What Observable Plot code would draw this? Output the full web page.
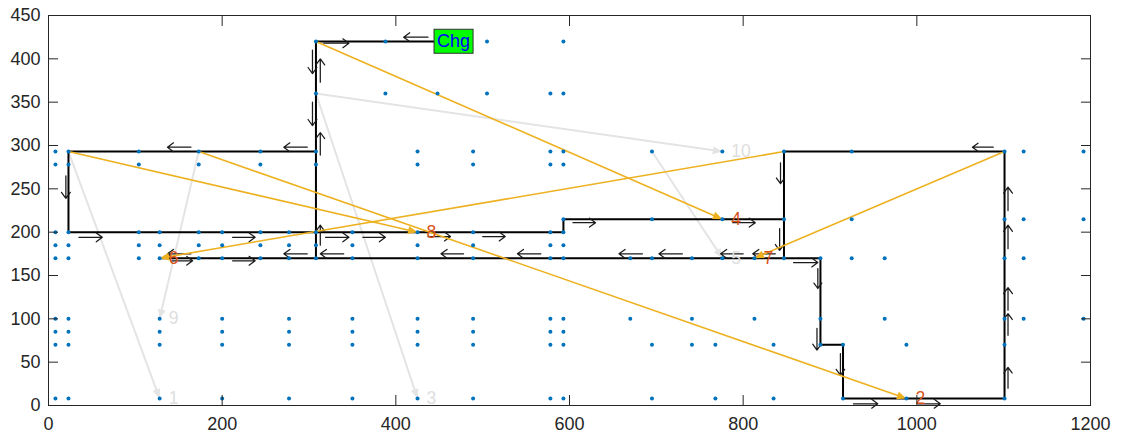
<!DOCTYPE html>
<html><head><meta charset="utf-8">
<script src="https://cdn.jsdelivr.net/npm/d3@7"></script>
<script src="https://cdn.jsdelivr.net/npm/@observablehq/plot@0.6"></script>
<style>
html,body{margin:0;padding:0;background:#fff;}
svg{display:block;}
</style></head><body>
<script>
// ---- axis ticks ----
const xTicks = [0, 200, 400, 600, 800, 1000, 1200];
const yTicks = [0, 50, 100, 150, 200, 250, 300, 350, 400, 450];

// ---- storage locations (blue dots), one array per row ----
const dots420 = [308, 388, 505, 593];
const dots360 = [308, 388, 448, 505, 578, 593];
const dots293 = [8, 23, 104, 173, 244, 308, 425, 489, 578, 593, 695, 776, 847, 925, 1101, 1123, 1192];
const dots278 = [8, 23, 104, 173, 244, 308, 425, 489, 578, 593];
const dots215 = [593, 695, 776, 847, 925, 1101, 1123, 1192];
const dots200 = [8, 23, 104, 128, 173, 200, 244, 277, 308, 350, 425, 489, 578, 593];
const dots185 = [8, 23, 104, 128, 173, 200, 244, 277, 308, 350, 425, 489, 578, 593];
const dots170 = [8, 23, 104, 128, 173, 200, 244, 277, 308, 350, 425, 489, 578, 593, 670, 695, 741, 776, 813, 847, 889, 925, 963, 1101, 1123];
const dots100 = [8, 23, 128, 200, 277, 350, 425, 489, 578, 593, 670, 741, 813, 889, 963, 1101, 1123, 1192];
const dots85  = [8, 23, 128, 200, 277, 350, 425, 489, 578, 593];
const dots70  = [8, 23, 128, 200, 277, 350, 425, 489, 578, 593, 695, 741, 768, 835, 889, 915, 988, 1101];
const dots8   = [8, 23, 128, 200, 277, 350, 425, 489, 578, 593, 695, 768, 835, 915, 988, 1101];
const dotRows = [[420, dots420], [360, dots360], [293, dots293], [278, dots278], [215, dots215], [200, dots200],
                 [185, dots185], [170, dots170], [100, dots100], [85, dots85], [70, dots70], [8, dots8]];

// ---- vehicle route (black polyline) ----
const routeX = [444, 308, 308, 23, 23, 593, 593, 847, 847, 889, 889, 915, 915, 1101, 1101, 847, 847, 128, 308, 308, 444];
const routeY = [420, 420, 293, 293, 200, 200, 215, 215, 170, 170, 70, 70, 8, 8, 293, 293, 170, 170, 170, 420, 420];

// ---- direction arrows along the route (quiver): [x1, y1, x2, y2] ----
const routeArrows = [
  [35,194,62,194], [212,194,238,194], [319,194,346,194], [362,194,388,194], [437,195,463,195], [500,195,526,195],
  [604,211,630,211], [788,211,814,211], [858,165,886,165], [141,167,166,167], [212,167,238,167],
  [927,2,955,2], [1001,2,1027,2], [317,418,346,418],
  [437,425,409,425], [298,298,271,298], [164,298,137,298], [1088,298,1064,298],
  [298,175,271,175], [340,175,313,175], [164,175,137,175], [478,175,452,175], [567,175,540,175],
  [684,175,657,175], [730,175,703,175], [800,175,774,175], [837,175,811,175],
  [304,410,304,383], [304,350,304,323], [20,265,20,239], [843,280,843,256], [842,204,842,179],
  [886,158,886,135], [885,89,885,64], [912,60,912,35],
  [313,373,313,400], [313,289,313,315], [313,185,313,208],
  [1105,20,1105,44], [1105,81,1105,106], [1105,110,1105,136], [1105,181,1105,208], [1105,225,1105,252]
];

// ---- pending tasks (orange) ----
const orangeLabels = ["2", "4", "6", "7", "8"];
const orangeX1 = [173, 308, 847, 1101, 23];
const orangeY1 = [293, 420, 293, 293, 293];
const orangeX2 = [988, 776, 128, 813, 425];
const orangeY2 = [8, 215, 170, 170, 200];

// ---- completed tasks (light gray) ----
const grayLabels = ["1", "3", "5", "9", "10"];
const grayX1 = [23, 308, 695, 173, 308];
const grayY1 = [293, 360, 293, 293, 360];
const grayX2 = [128, 425, 776, 128, 776];
const grayY2 = [8, 8, 170, 100, 293];

// ---- charger ----
const chargerX = 444, chargerY = 420, chargerLabel = "Chg";

// ---- build tables ----
const dots = dotRows.flatMap(([y, xs]) => xs.map(x => ({x, y})));
const route = routeX.map((x, i) => ({x, y: routeY[i]}));
const quiver = routeArrows.map(([x1, y1, x2, y2]) => ({x1, y1, x2, y2}));
const orangeTasks = orangeLabels.map((label, i) => ({label, x1: orangeX1[i], y1: orangeY1[i], x2: orangeX2[i], y2: orangeY2[i]}));
const grayTasks = grayLabels.map((label, i) => ({label, x1: grayX1[i], y1: grayY1[i], x2: grayX2[i], y2: grayY2[i]}));
const charger = [{x: chargerX, y: chargerY, label: chargerLabel}];

const font = '"Liberation Sans", Arial, Helvetica, sans-serif';
const axisColor = "#262626";
const blank = () => "";
const plain = d => String(d);

const svg = Plot.plot({
  width: 1125, height: 442,
  marginLeft: 48, marginRight: 35, marginTop: 15, marginBottom: 37,
  x: {domain: [0, 1200], label: null},
  y: {domain: [0, 450], label: null},
  style: {fontFamily: font, fontSize: "18px", color: axisColor, background: "#fff"},
  marks: [
    Plot.link(grayTasks, {x1: "x1", y1: "y1", x2: "x2", y2: "y2", stroke: "#e4e4e4", strokeWidth: 2, markerEnd: "arrow"}),
    Plot.line(route, {x: "x", y: "y", stroke: "#000", strokeWidth: 2, curve: "linear"}),
    Plot.arrow(quiver, {x1: "x1", y1: "y1", x2: "x2", y2: "y2", stroke: "#1a1a1a", strokeWidth: 1.25, headLength: 9, headAngle: 72}),
    Plot.link(orangeTasks, {x1: "x1", y1: "y1", x2: "x2", y2: "y2", stroke: "#EDB120", strokeWidth: 1.6, markerEnd: "arrow"}),
    Plot.dot(dots, {x: "x", y: "y", r: 2, fill: "#0072BD", stroke: null}),
    Plot.text(grayTasks, {x: "x2", y: "y2", text: "label", dx: 9, textAnchor: "start", fill: "#dedede", fontSize: 17.5}),
    Plot.text(orangeTasks, {x: "x2", y: "y2", text: "label", dx: 9, textAnchor: "start", fill: "#D95319", fontSize: 17.5}),
    Plot.text(charger, {x: "x", y: "y", text: "label", dx: 3, textAnchor: "start", fill: "#0000ff", fontSize: 18}),
    Plot.frame({stroke: axisColor, strokeWidth: 1}),
    Plot.axisX({ticks: xTicks, anchor: "bottom", tickSize: 0, tickPadding: 12, tickFormat: plain, label: null}),
    Plot.axisX({ticks: xTicks, anchor: "bottom", tickSize: -10, tickFormat: blank, label: null}),
    Plot.axisX({ticks: xTicks, anchor: "top", tickSize: -10, tickFormat: blank, label: null}),
    Plot.axisY({ticks: yTicks, anchor: "left", tickSize: 0, tickPadding: 8, tickFormat: plain, label: null}),
    Plot.axisY({ticks: yTicks, anchor: "left", tickSize: -10, tickFormat: blank, label: null}),
    Plot.axisY({ticks: yTicks, anchor: "right", tickSize: -10, tickFormat: blank, label: null})
  ]
});
document.body.appendChild(svg);

// filled arrowheads for the task arrows (MATLAB-style quiver heads)
svg.querySelectorAll("marker").forEach(m => {
  const c = m.getAttribute("stroke") || "#000";
  m.setAttribute("viewBox", "-10 -5 10 10");
  m.setAttribute("markerWidth", "10");
  m.setAttribute("markerHeight", "10");
  m.setAttribute("markerUnits", "userSpaceOnUse");
  m.setAttribute("refX", "0");
  m.setAttribute("refY", "0");
  m.setAttribute("overflow", "visible");
  m.setAttribute("fill", c);
  m.setAttribute("stroke", "none");
  const p = m.querySelector("path");
  if (p) p.setAttribute("d", "M-9.5,-4L0,0L-9.5,4Z");
});

// green box behind the charger label
const svgBox = svg.getBoundingClientRect();
svg.querySelectorAll("text").forEach(t => {
  if (t.textContent !== chargerLabel) return;
  const b = t.getBoundingClientRect();
  const pad = 3;
  const r = document.createElementNS("http://www.w3.org/2000/svg", "rect");
  r.setAttribute("x", b.left - svgBox.left - pad);
  r.setAttribute("y", b.top - svgBox.top - pad + 1);
  r.setAttribute("width", b.width + 2 * pad);
  r.setAttribute("height", b.height + 2 * pad - 2);
  r.setAttribute("fill", "#00ff00");
  r.setAttribute("stroke", "#333");
  r.setAttribute("stroke-width", "1");
  let g = t;
  while (g.parentNode !== svg) g = g.parentNode;
  svg.insertBefore(r, g);
});
</script>
</body></html>
